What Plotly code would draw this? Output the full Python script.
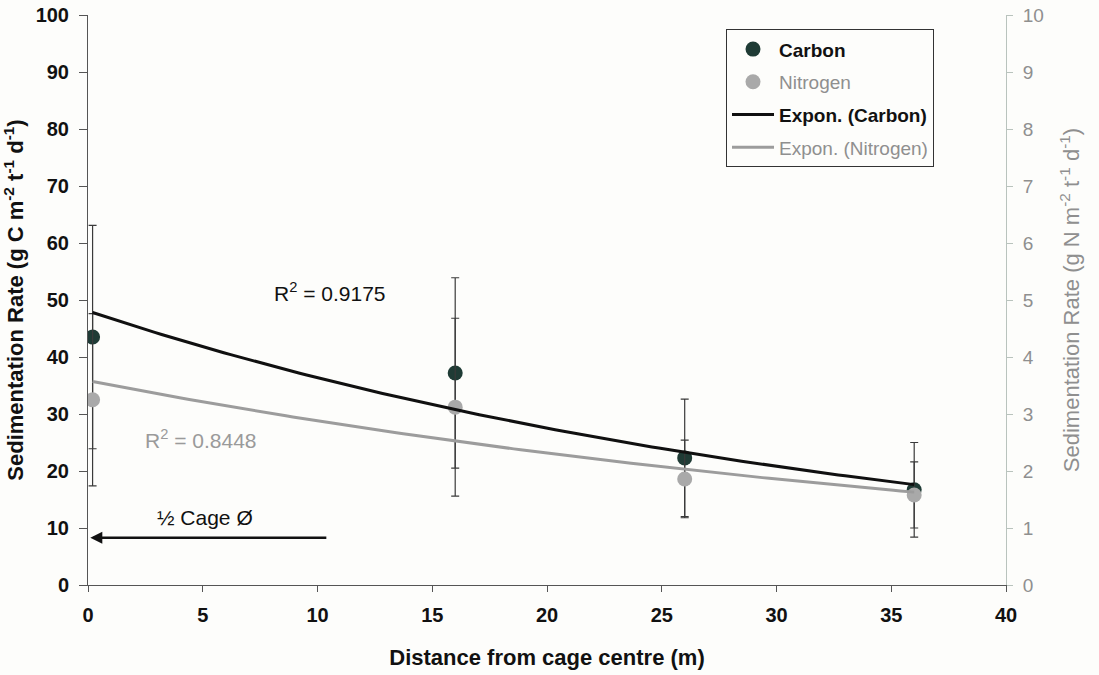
import numpy as np
import plotly.graph_objects as go

# Sampling stations: distance from the cage centre (m)
distance = [0.2, 16, 26, 36]

# Carbon sedimentation (g C m-2 t-1 d-1) and standard deviation
carbon = [43.5, 37.2, 22.3, 16.7]
carbon_sd = [19.6, 16.7, 10.3, 8.3]

# Nitrogen sedimentation (g N m-2 t-1 d-1) and standard deviation
nitrogen = [3.25, 3.12, 1.86, 1.58]
nitrogen_sd = [1.51, 1.56, 0.68, 0.58]

r2_carbon = "0.9175"
r2_nitrogen = "0.8448"

FONT = "Liberation Sans, Arial, sans-serif"
GREY_TXT = "#8f8f8f"
AXIS = "#555555"


def expon_fit(x, y):
    """Least-squares exponential trend y = a*exp(b*x) (fit on ln y)."""
    b, ln_a = np.polyfit(np.asarray(x, float), np.log(np.asarray(y, float)), 1)
    xs = np.linspace(min(x), max(x), 120)
    return xs, np.exp(ln_a) * np.exp(b * xs)


cx, cy = expon_fit(distance, carbon)
nx, ny = expon_fit(distance, nitrogen)

fig = go.Figure()

fig.add_trace(go.Scatter(
    x=distance, y=carbon, mode="markers", yaxis="y",
    name="<b>Carbon</b>", legendgroup="c", legendrank=1,
    marker=dict(size=15, color="#1f3b35"),
    error_y=dict(type="data", array=carbon_sd, symmetric=True,
                 color="#3a3a3a", thickness=1.2, width=4),
))
fig.add_trace(go.Scatter(
    x=distance, y=nitrogen, mode="markers", yaxis="y2",
    name=f"<span style='color:{GREY_TXT}'>Nitrogen</span>",
    legendgroup="n", legendrank=2,
    marker=dict(size=15, color="#a9a9a9"),
    error_y=dict(type="data", array=nitrogen_sd, symmetric=True,
                 color="#3a3a3a", thickness=1.2, width=4),
))
fig.add_trace(go.Scatter(
    x=nx, y=ny, mode="lines", yaxis="y2",
    name=f"<span style='color:{GREY_TXT}'>Expon. (Nitrogen)</span>",
    legendgroup="en", legendrank=4,
    line=dict(color="#9c9c9c", width=3),
))
fig.add_trace(go.Scatter(
    x=cx, y=cy, mode="lines", yaxis="y3",
    name="<b>Expon. (Carbon)</b>", legendgroup="ec", legendrank=3,
    line=dict(color="#101010", width=3),
))

fig.update_layout(
    width=1099, height=675,
    margin=dict(l=88, r=93, t=15, b=90),
    paper_bgcolor="#fdfdfb", plot_bgcolor="#fdfdfb",
    font=dict(family=FONT, size=18, color="#111111"),
    showlegend=True,
    legend=dict(
        x=0.695, y=0.975, xanchor="left", yanchor="top",
        bgcolor="#fdfdfb", bordercolor="#333333", borderwidth=1,
        font=dict(family=FONT, size=19, color="#111111"),
        tracegroupgap=5, itemwidth=42,
    ),
    xaxis=dict(
        range=[0, 40], dtick=5, tick0=0,
        showline=True, linecolor=AXIS, linewidth=1,
        ticks="outside", ticklen=6, tickcolor=AXIS,
        ticklabelstandoff=6,
        showgrid=False, zeroline=False, automargin=False,
        tickfont=dict(family=FONT, size=20, weight="bold", color="#111111"),
        title=dict(text="Distance from cage centre (m)", standoff=24,
                   font=dict(family=FONT, size=22, weight="bold", color="#111111")),
    ),
    yaxis=dict(
        range=[0, 100], dtick=10, tick0=0,
        showline=True, linecolor=AXIS, linewidth=1,
        ticks="outside", ticklen=8, tickcolor=AXIS,
        ticklabelstandoff=6,
        showgrid=False, zeroline=False, automargin=False,
        tickfont=dict(family=FONT, size=20, weight="bold", color="#111111"),
        title=dict(text="Sedimentation Rate (g C m<sup>-2</sup> t<sup>-1</sup> d<sup>-1</sup>)",
                   standoff=5,
                   font=dict(family=FONT, size=22, weight="bold", color="#111111")),
    ),
    yaxis2=dict(
        overlaying="y", side="right", anchor="x",
        range=[0, 10], dtick=1, tick0=0,
        showline=True, linecolor="#b9c3bd", linewidth=1,
        ticks="outside", ticklen=6, tickcolor="#b9c3bd",
        ticklabelstandoff=6,
        showgrid=False, zeroline=False, automargin=False,
        tickfont=dict(family=FONT, size=19, color=GREY_TXT),
        title=dict(text="Sedimentation Rate (g N m<sup>-2</sup> t<sup>-1</sup> d<sup>-1</sup>)",
                   standoff=20,
                   font=dict(family=FONT, size=22, color=GREY_TXT)),
    ),
    yaxis3=dict(overlaying="y", range=[0, 100], visible=False),
)

# Trend-line fit statistics
fig.add_annotation(x=8.0, y=51.4, xref="x", yref="y", xanchor="left",
                   text=f"R<sup>2</sup> = {r2_carbon}", showarrow=False,
                   font=dict(family=FONT, size=21, color="#111111"))
fig.add_annotation(x=2.4, y=25.6, xref="x", yref="y", xanchor="left",
                   text=f"R<sup>2</sup> = {r2_nitrogen}", showarrow=False,
                   font=dict(family=FONT, size=21, color="#9a9a9a"))

# Half cage diameter marker
fig.add_annotation(x=5.1, y=11.9, xref="x", yref="y",
                   text="½ Cage Ø", showarrow=False,
                   font=dict(family=FONT, size=21, color="#111111"))
fig.add_annotation(x=0.1, y=8.3, ax=10.45, ay=8.3,
                   xref="x", yref="y", axref="x", ayref="y",
                   text="", showarrow=True, arrowhead=2, arrowsize=1,
                   arrowwidth=2.4, arrowcolor="#111111")

fig.write_html("out.html")
